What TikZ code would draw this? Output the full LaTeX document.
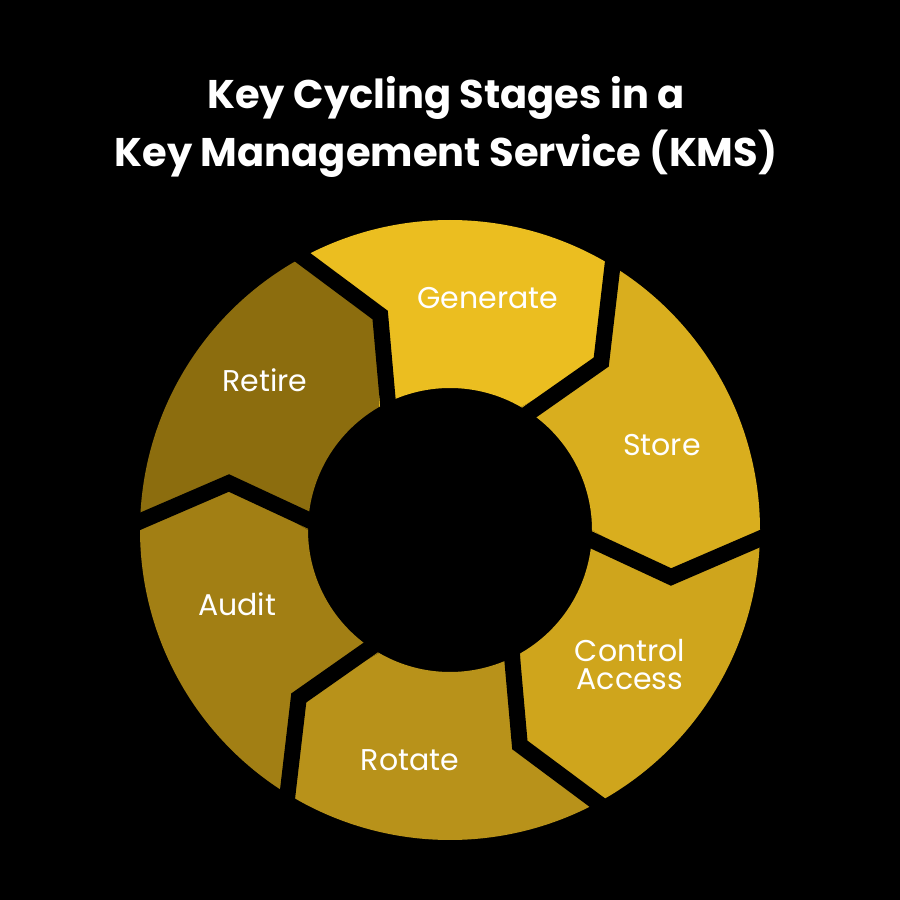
\documentclass[tikz,border=0pt]{standalone}
\usepackage{fontspec}
\setmainfont{Poppins}
\begin{document}
\begin{tikzpicture}[x=1pt,y=1pt,
  lbl/.style={text=white,font=\fontsize{30}{34}\selectfont,align=center}]
\fill[black] (0,0) rectangle (900,900);
\useasboundingbox (0,0) rectangle (900,900);
\node[text=white,font=\fontsize{40}{58}\selectfont\bfseries,align=center] (title) at (446,773)
  {Key Cycling Stages in a\\Key Management Service (KMS)};
\def\ri{142}\def\ro{310}\def\rm{226}\def\dd{12}
\begin{scope}[shift={(450,370)}]
\foreach \a/\c in {120/EBBE20,60/D9AE1E,0/CFA51C,-60/B8921A,-120/A27F14,180/8C6D0E}{
  \definecolor{segc}{HTML}{\c}
  \pgfmathsetmacro{\b}{\a-60}
  \fill[segc] (\a:\ri) -- (\a-\dd:\rm) -- (\a:\ro) arc[start angle=\a,end angle=\b,radius=\ro]
    -- (\b-\dd:\rm) -- (\b:\ri) arc[start angle=\b,end angle=\a,radius=\ri] -- cycle;
}
\foreach \a in {0,60,120,180,240,300}{
  \draw[black,line width=16,line join=miter] (\a:120) -- (\a-\dd:\rm) -- (\a:330);
}
\end{scope}
\node[lbl] (gen) at (488,602) {Generate};
\node[lbl] (sto) at (662,455) {Store};
\node[lbl] (ctl) at (630,235) {Control\\[-6pt]Access};
\node[lbl] (rot) at (410,140) {Rotate};
\node[lbl] (aud) at (237,296) {Audit};
\node[lbl] (ret) at (265,520) {Retire};
\end{tikzpicture}
\end{document}
